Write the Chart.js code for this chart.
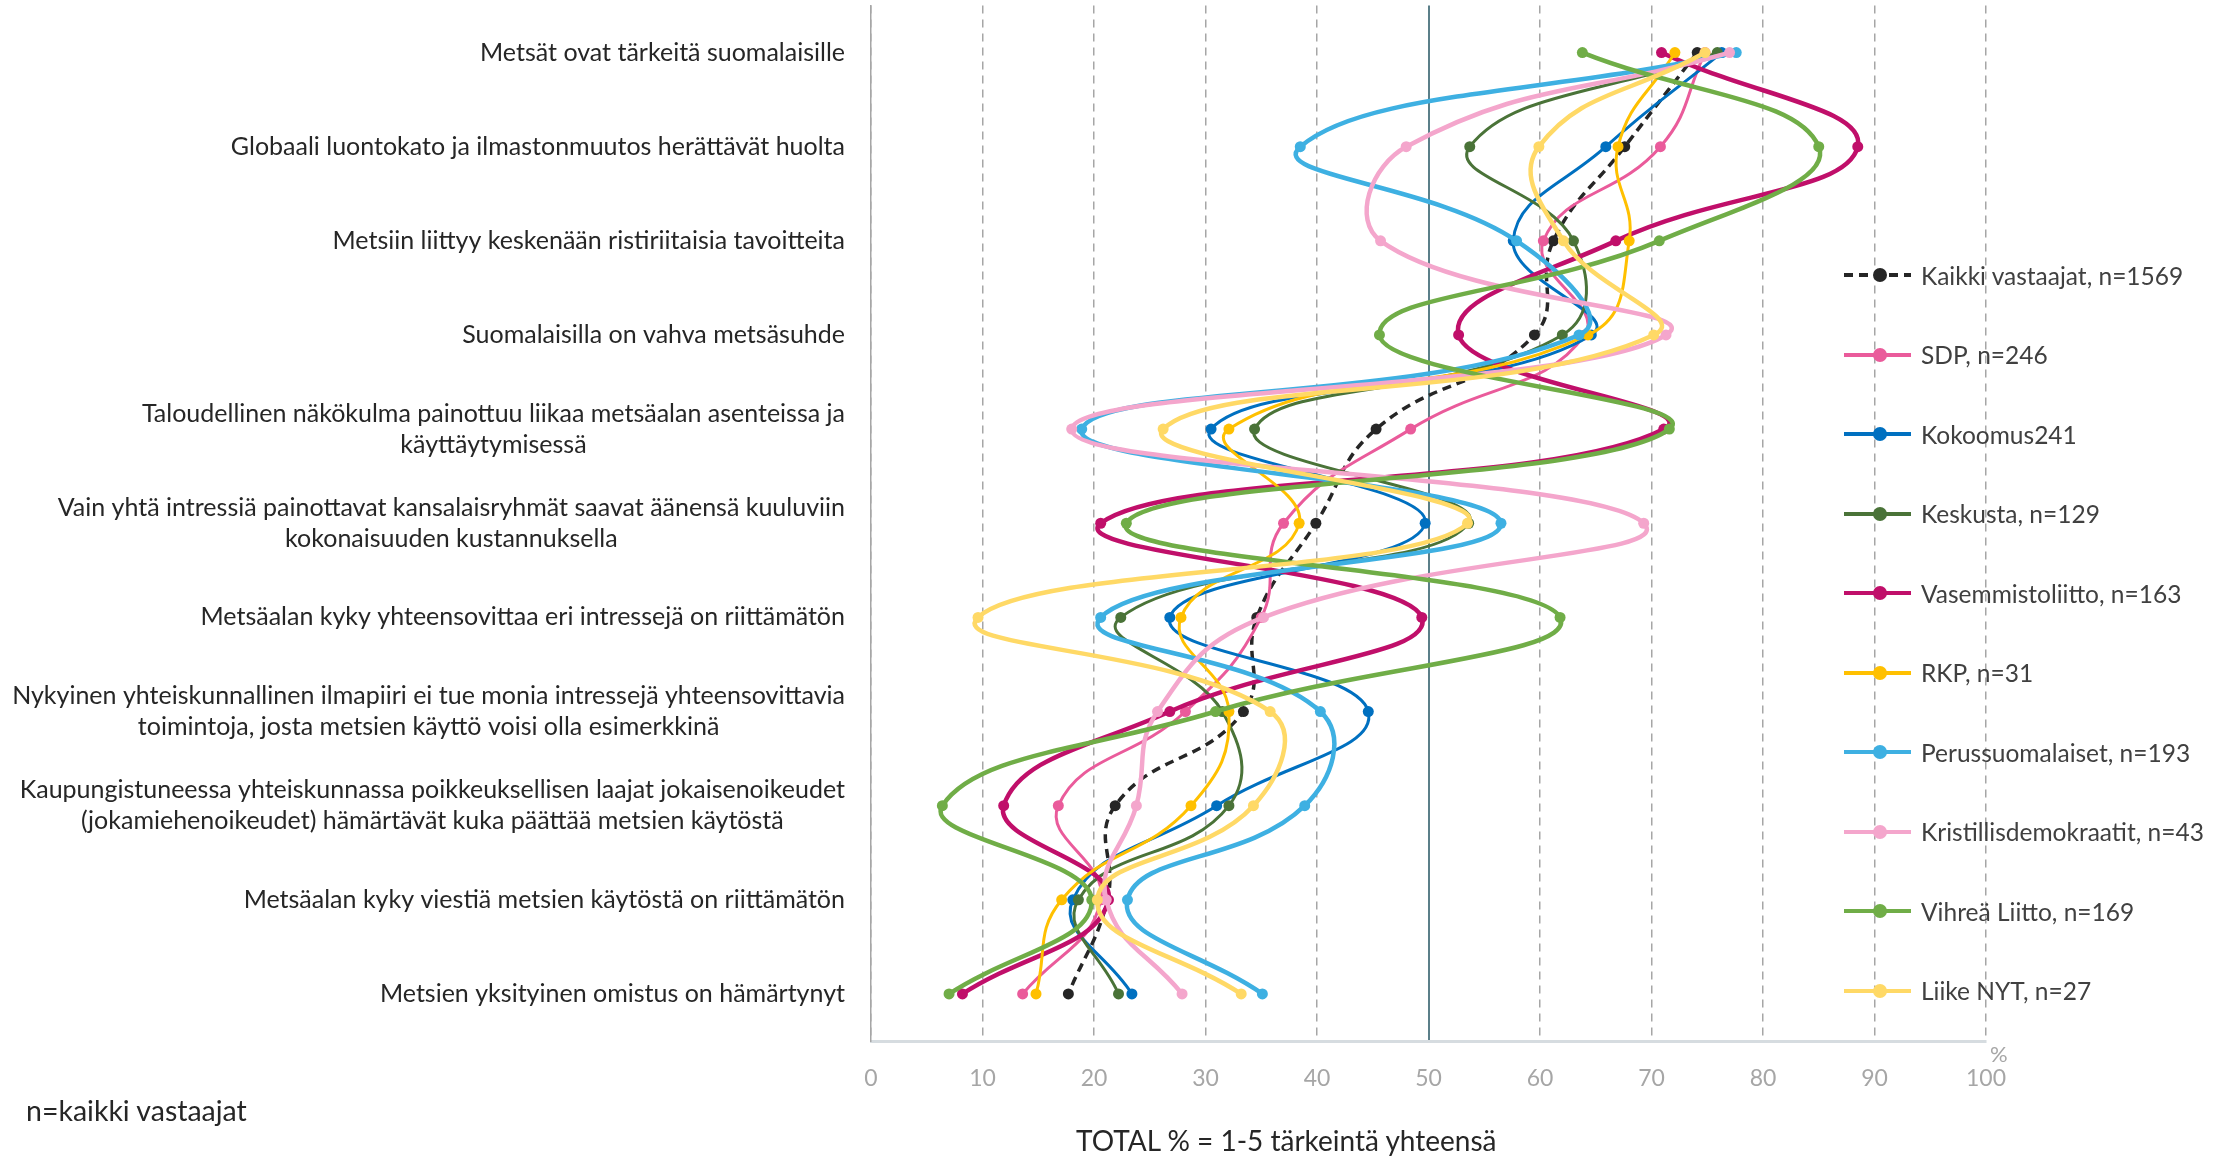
<!DOCTYPE html>
<html>
<head>
<meta charset="utf-8">
<script src="https://cdn.jsdelivr.net/npm/chart.js@4.4.1/dist/chart.umd.min.js"></script>
<style>
  html, body { margin:0; padding:0; background:#fff; }
  #wrap { position:relative; width:2231px; height:1156px; font-family:Lato, "Noto Sans", sans-serif; }
  #legend { position:absolute; left:1844px; top:0; }
  .item { position:absolute; left:0; height:32px; display:flex; align-items:center; white-space:nowrap;
          font-size:24.5px; color:#404040; }
  .item svg { margin-right:10px; }
  .note { position:absolute; font-size:28px; color:#262626; white-space:nowrap; line-height:32px; }
</style>
</head>
<body>
<div id="wrap">
  <canvas id="chart" width="2231" height="1156"></canvas>
  <div id="legend"></div>
  <div class="note" style="left:26px; top:1094px; font-size:28.5px;">n=kaikki vastaajat</div>
  <div class="note" style="left:1076px; top:1124px;">TOTAL % = 1-5 tärkeintä yhteensä</div>
  <div class="note" style="left:1990px; top:1038px; color:#a6a6a6; font-size:22px;">%</div>
</div>
<script>
// väittämät (y-akseli), rivitetty kuten alkuperäisessä
const categories = [
  ['Metsät ovat tärkeitä suomalaisille'],
  ['Globaali luontokato ja ilmastonmuutos herättävät huolta'],
  ['Metsiin liittyy keskenään ristiriitaisia tavoitteita'],
  ['Suomalaisilla on vahva metsäsuhde'],
  ['Taloudellinen näkökulma painottuu liikaa metsäalan asenteissa ja', 'käyttäytymisessä'],
  ['Vain yhtä intressiä painottavat kansalaisryhmät saavat äänensä kuuluviin', 'kokonaisuuden kustannuksella'],
  ['Metsäalan kyky yhteensovittaa eri intressejä on riittämätön'],
  ['Nykyinen yhteiskunnallinen ilmapiiri ei tue monia intressejä yhteensovittavia', 'toimintoja, josta metsien käyttö voisi olla esimerkkinä'],
  ['Kaupungistuneessa yhteiskunnassa poikkeuksellisen laajat jokaisenoikeudet', '(jokamiehenoikeudet) hämärtävät kuka päättää metsien käytöstä'],
  ['Metsäalan kyky viestiä metsien käytöstä on riittämätön'],
  ['Metsien yksityinen omistus on hämärtynyt']
];

const seriesNames = [
  'Kaikki vastaajat, n=1569', 'SDP, n=246', 'Kokoomus241', 'Keskusta, n=129',
  'Vasemmistoliitto, n=163', 'RKP, n=31', 'Perussuomalaiset, n=193',
  'Kristillisdemokraatit, n=43', 'Vihreä Liitto, n=169', 'Liike NYT, n=27'
];

const kaikki = [74.1, 67.6, 61.2, 59.5, 45.3, 39.9, 34.6, 33.4, 21.9, 21.2, 17.7];
const sdp    = [74.8, 70.8, 60.3, 64.0, 48.4, 37.0, 35.0, 28.2, 16.8, 20.6, 13.6];
const kok    = [76.3, 65.9, 57.6, 64.6, 30.5, 49.7, 26.8, 44.6, 31.0, 18.1, 23.4];
const kesk   = [75.9, 53.7, 63.0, 62.0, 34.4, 53.6, 22.4, 31.5, 32.1, 18.6, 22.2];
const vas    = [70.9, 88.5, 66.8, 52.7, 71.1, 20.6, 49.4, 26.8, 11.9, 21.3, 8.2];
const rkp    = [72.1, 67.0, 68.0, 64.3, 32.1, 38.4, 27.8, 32.1, 28.7, 17.1, 14.8];
const ps     = [77.6, 38.5, 57.9, 63.5, 18.9, 56.5, 20.6, 40.3, 38.9, 23.0, 35.1];
const kd     = [77.0, 48.0, 45.7, 71.3, 18.0, 69.3, 35.2, 25.7, 23.8, 21.1, 27.9];
const vihr   = [63.8, 85.0, 70.7, 45.6, 71.6, 22.9, 61.8, 30.9, 6.4, 19.8, 7.0];
const nyt    = [74.8, 59.9, 62.1, 70.2, 26.2, 53.5, 9.6, 35.8, 34.3, 20.3, 33.2];

const xTicks = [0, 10, 20, 30, 40, 50, 60, 70, 80, 90, 100];

const values = [kaikki, sdp, kok, kesk, vas, rkp, ps, kd, vihr, nyt];
const colors = ['#262626','#ea5b9b','#0070c0','#4a7338','#c00f6a','#ffc000','#3eb0e2','#f4a6cc','#70ad47','#ffd966'];
const widths = [3.5, 3, 3, 3, 4.5, 3, 4.5, 4.5, 4.5, 4.5];

const LABEL_FONT = '25px Lato';

const yLabels = {
  id:'yLabels',
  afterDraw(chart){
    const { ctx, scales:{ y }, chartArea } = chart;
    ctx.save();
    ctx.font = LABEL_FONT;
    ctx.fillStyle = '#262626';
    ctx.textAlign = 'center';
    ctx.textBaseline = 'middle';
    categories.forEach((lines, i) => {
      const yc = y.getPixelForValue(i);
      const w = Math.max(...lines.map(l => ctx.measureText(l).width));
      const cx = chartArea.left - 26 - w / 2;
      lines.forEach((l, j) => ctx.fillText(l, cx, yc + (j - (lines.length - 1) / 2) * 31));
    });
    ctx.restore();
  }
};

const datasets = values.map((v, i) => ({
  label: seriesNames[i],
  data: v,
  borderColor: colors[i],
  backgroundColor: colors[i],
  borderWidth: widths[i],
  borderDash: i === 0 ? [9, 6] : [],
  tension: 0.45,
  pointRadius: 5.5,
  pointBorderWidth: 0,
  pointBackgroundColor: colors[i],
  fill: false,
  order: values.length - i
}));

new Chart(document.getElementById('chart'), {
  type:'line',
  data:{ labels: categories.map(c => c.join(' ')), datasets },
  options:{
    indexAxis:'y',
    responsive:false,
    animation:false,
    devicePixelRatio:1,
    layout:{ padding:{ top:5, right:245, bottom:0, left:0 } },
    plugins:{ legend:{ display:false }, tooltip:{ enabled:false } },
    scales:{
      x:{
        type:'linear',
        min:0, max:100,
        afterBuildTicks:(s)=>{ s.ticks = xTicks.map(v => ({ value:v })); },
        afterFit:(s)=>{ s.height = 115; },
        grid:{
          drawTicks:false,
          color:(c)=> c.tick && c.tick.value === 50 ? '#5b7f89' : '#a6a6a6',
          lineWidth:(c)=> c.tick && c.tick.value === 50 ? 2 : 1.5
        },
        border:{
          display:true, color:'#d6dce0', width:3,
          dash:(c)=> c.tick && c.tick.value === 50 ? [] : [8, 6]
        },
        ticks:{ padding:24, color:'#a6a6a6', font:{ family:'Lato', size:23 } },
        title:{ display:false }
      },
      y:{
        type:'category',
        offset:true,
        afterFit:(s)=>{ s.width = 871; },
        grid:{ display:false, drawTicks:false },
        border:{ display:true, color:'#a6a6a6', width:1.5 },
        ticks:{ display:false }
      }
    }
  },
  plugins:[yLabels]
});

// selite oikealla, piirtoalueen päällä
const legendEl = document.getElementById('legend');
seriesNames.forEach((name, i) => {
  const d = document.createElement('div');
  d.className = 'item';
  d.style.top = (275 + i * 79.5 - 16) + 'px';
  const dash = i === 0 ? 'stroke-dasharray="9 6"' : '';
  d.innerHTML = `<svg width="67" height="32"><line x1="0" y1="16" x2="67" y2="16" stroke="${colors[i]}" stroke-width="4" ${dash}/>` +
    `<circle cx="36" cy="16" r="7" fill="${colors[i]}"/></svg><span>${name}</span>`;
  legendEl.appendChild(d);
});
</script>
</body>
</html>
